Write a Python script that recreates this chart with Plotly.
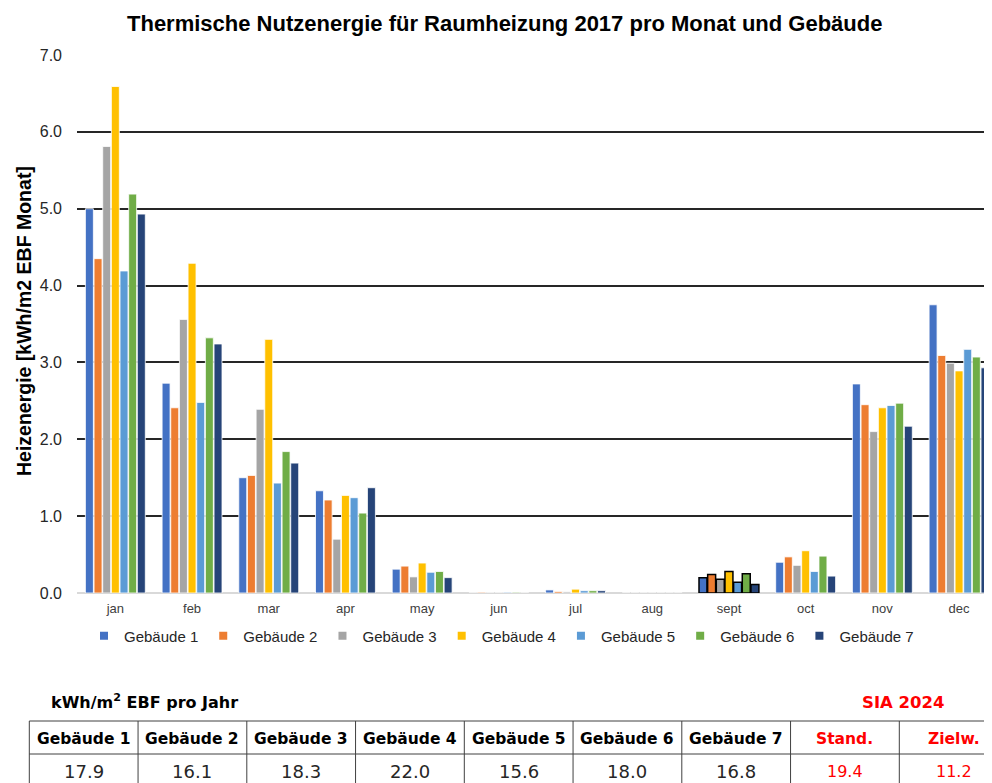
import plotly.graph_objects as go

months = ["jan", "feb", "mar", "apr", "may", "jun", "jul", "aug", "sept", "oct", "nov", "dec"]
buildings = ["Gebäude 1", "Gebäude 2", "Gebäude 3", "Gebäude 4", "Gebäude 5", "Gebäude 6", "Gebäude 7"]
colors = ["#4472C4", "#ED7D31", "#A5A5A5", "#FFC000", "#5B9BD5", "#70AD47", "#264478"]

g1 = [5.00, 2.73, 1.50, 1.33, 0.31, 0.00, 0.04, 0.0, 0.20, 0.40, 2.72, 3.75]
g2 = [4.35, 2.41, 1.53, 1.21, 0.35, 0.01, 0.02, 0.0, 0.24, 0.47, 2.45, 3.09]
g3 = [5.81, 3.56, 2.39, 0.70, 0.21, 0.00, 0.015, 0.0, 0.18, 0.36, 2.10, 2.99]
g4 = [6.59, 4.29, 3.30, 1.27, 0.39, 0.00, 0.05, 0.0, 0.28, 0.55, 2.41, 2.89]
g5 = [4.19, 2.48, 1.43, 1.24, 0.27, 0.01, 0.03, 0.0, 0.14, 0.28, 2.44, 3.17]
g6 = [5.19, 3.32, 1.84, 1.04, 0.28, 0.01, 0.03, 0.0, 0.25, 0.48, 2.47, 3.07]
g7 = [4.93, 3.24, 1.69, 1.37, 0.20, 0.00, 0.03, 0.0, 0.11, 0.22, 2.17, 2.93]
series = [g1, g2, g3, g4, g5, g6, g7]

# table under the chart
year_values = ["17.9", "16.1", "18.3", "22.0", "15.6", "18.0", "16.8"]
sia_labels = ["Stand.", "Zielw."]
sia_values = ["19.4", "11.2"]

# page has an 8px body margin, so the figure is 8px smaller and everything shifted
OFF = 8
FW, FH = 992 - OFF, 783 - OFF
# plot area in figure pixels
L, T, W, H = 77 - OFF, 55 - OFF, 915, 538


def fx(p):
    # screen pixel -> paper x
    return (p - OFF - L) / W


def fy(p):
    # screen pixel -> paper y
    return (T + H - (p - OFF)) / H


fig = go.Figure()
for name, col, vals in zip(buildings, colors, series):
    lc = ["black" if m == "sept" else "white" for m in months]
    lw = [1.5 if m == "sept" else 0.8 for m in months]
    fig.add_trace(go.Bar(x=months, y=vals, name=name, marker_color=col,
                         marker_line_color=lc, marker_line_width=lw, showlegend=False))
    # small square legend symbol
    fig.add_trace(go.Scatter(x=[None], y=[None], mode="markers", name=name,
                             marker=dict(symbol="square", size=8, color=col)))

fig.update_layout(
    width=FW, height=FH,
    margin=dict(l=L, r=FW - L - W, t=T, b=FH - T - H, autoexpand=False),
    plot_bgcolor="white", paper_bgcolor="white",
    barmode="group", bargap=0.21, bargroupgap=0.08,
    font=dict(family="Liberation Sans, Arial", color="#262626"),
    legend=dict(orientation="h", x=fx(84), y=fy(636), xanchor="left", yanchor="middle",
                font=dict(size=15, color="#262626"), itemwidth=30),
)
fig.update_xaxes(range=[-0.5, -0.5 + W / 76.7], showgrid=False, showline=False, ticks="",
                 automargin=False, ticklabelstandoff=6, tickfont=dict(size=13, color="#404040"))
fig.update_yaxes(range=[0, 7], dtick=1, tickformat=".1f", showgrid=True, gridcolor="#262626",
                 gridwidth=1.5, zeroline=True, zerolinecolor="#D9D9D9", zerolinewidth=1.5,
                 showline=False, ticks="", ticklabelstandoff=14, automargin=False,
                 tickfont=dict(size=16, color="#262626"))

anns = [
    dict(text="<b>Thermische Nutzenergie für Raumheizung 2017 pro Monat und Gebäude</b>",
         x=fx(504), y=fy(23), font=dict(size=22, color="black")),
    dict(text="<b>Heizenergie [kWh/m2 EBF Monat]</b>", x=fx(24), y=fy(321), textangle=-90,
         font=dict(size=19.5, color="black")),
    dict(text="<b>kWh/m<sup>2</sup> EBF pro Jahr</b>", x=fx(49), y=fy(701), xanchor="left",
         font=dict(family="DejaVu Sans", size=16, color="black")),
    dict(text="<b>SIA 2024</b>", x=fx(903), y=fy(703),
         font=dict(family="DejaVu Sans", size=16.5, color="red")),
]

col_x0, col_w = 29.3, 108.75
row_top, row_mid, row_bot = 721, 754, 800
shapes = []
shapes.append(dict(type="line", x0=fx(col_x0), x1=fx(1000), y0=fy(row_top), y1=fy(row_top)))
shapes.append(dict(type="line", x0=fx(col_x0), x1=fx(1000), y0=fy(row_mid), y1=fy(row_mid)))
for i in range(9):
    xx = col_x0 + i * col_w
    shapes.append(dict(type="line", x0=fx(xx), x1=fx(xx), y0=fy(row_top), y1=fy(row_bot)))
for s in shapes:
    s.update(xref="paper", yref="paper", line=dict(color="#404040", width=1))

heads = buildings + sia_labels
vals = year_values + sia_values
for i, (h, v) in enumerate(zip(heads, vals)):
    cx = col_x0 + (i + 0.5) * col_w
    red = i >= 7
    anns.append(dict(text="<b>" + h + "</b>", x=fx(cx), y=fy(739),
                     font=dict(family="DejaVu Sans", size=15.5, color="red" if red else "black")))
    anns.append(dict(text=v, x=fx(cx), y=fy(771),
                     font=dict(family="DejaVu Sans", size=16 if red else 18,
                               color="red" if red else "#262626")))

for a in anns:
    a.setdefault("xref", "paper")
    a.setdefault("yref", "paper")
    a.setdefault("xanchor", "center")
    a.setdefault("yanchor", "middle")
    a.setdefault("showarrow", False)
fig.update_layout(annotations=anns, shapes=shapes)

fig.write_html("out.html")
